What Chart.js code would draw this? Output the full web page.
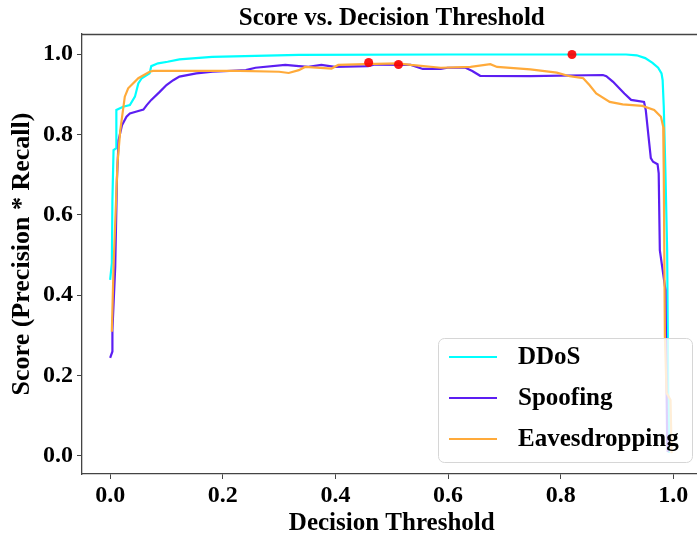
<!DOCTYPE html>
<html>
<head>
<meta charset="utf-8">
<title>Score vs. Decision Threshold</title>
<script src="https://cdn.jsdelivr.net/npm/chart.js@4.4.1/dist/chart.umd.min.js"></script>
<style>
  html, body { margin: 0; padding: 0; background: #fff; overflow: hidden; }
  #wrap { width: 697px; height: 539px; overflow: hidden; }
</style>
</head>
<body>
<div id="wrap"><canvas id="chart" width="706" height="539"></canvas></div>
<script>
// values
const seriesNames = ['DDoS', 'Spoofing', 'Eavesdropping'];

const ddosX = [0.000, 0.003, 0.004, 0.006, 0.011, 0.011, 0.023, 0.035, 0.044, 0.050, 0.056, 0.070, 0.073, 0.085,
  0.102, 0.123, 0.181, 0.335, 0.600, 0.820, 0.916, 0.935, 0.950, 0.963, 0.973, 0.979, 0.981, 0.983, 0.986,
  0.989, 0.991, 0.992];
const ddosY = [0.438, 0.480, 0.637, 0.761, 0.766, 0.861, 0.869, 0.873, 0.894, 0.927, 0.940, 0.952, 0.970, 0.977,
  0.981, 0.987, 0.993, 0.998, 0.999, 0.999, 0.999, 0.997, 0.990, 0.978, 0.966, 0.952, 0.935, 0.869, 0.703,
  0.512, 0.148, 0.007];

const spoofX = [0.000, 0.004, 0.004, 0.009, 0.012, 0.015, 0.021, 0.029, 0.035, 0.047, 0.059, 0.065, 0.073, 0.088,
  0.100, 0.112, 0.123, 0.153, 0.182, 0.241, 0.258, 0.311, 0.335, 0.352, 0.375, 0.399, 0.458, 0.470, 0.534,
  0.555, 0.587, 0.599, 0.631, 0.643, 0.657, 0.746, 0.875, 0.881, 0.893, 0.904, 0.913, 0.925, 0.948, 0.951,
  0.956, 0.960, 0.964, 0.972, 0.974, 0.976, 0.986, 0.989, 0.990];
const spoofY = [0.244, 0.260, 0.313, 0.471, 0.687, 0.786, 0.823, 0.844, 0.852, 0.857, 0.862, 0.873, 0.886, 0.906,
  0.923, 0.935, 0.944, 0.952, 0.956, 0.960, 0.966, 0.973, 0.970, 0.968, 0.973, 0.968, 0.970, 0.974, 0.973,
  0.963, 0.963, 0.966, 0.966, 0.958, 0.946, 0.945, 0.948, 0.945, 0.931, 0.915, 0.902, 0.886, 0.881, 0.861,
  0.794, 0.741, 0.732, 0.726, 0.703, 0.512, 0.413, 0.040, 0.010];

const eavesX = [0.003, 0.006, 0.013, 0.018, 0.026, 0.032, 0.050, 0.070, 0.076, 0.229, 0.300, 0.317, 0.335, 0.346,
  0.393, 0.405, 0.452, 0.511, 0.534, 0.587, 0.640, 0.675, 0.687, 0.746, 0.793, 0.816, 0.840, 0.851, 0.863,
  0.887, 0.910, 0.945, 0.966, 0.978, 0.982, 0.983, 0.985, 0.988, 0.995, 0.997];
const eavesY = [0.309, 0.471, 0.728, 0.811, 0.894, 0.915, 0.940, 0.956, 0.958, 0.958, 0.956, 0.953, 0.960, 0.968,
  0.964, 0.973, 0.975, 0.977, 0.973, 0.966, 0.968, 0.975, 0.968, 0.962, 0.954, 0.945, 0.940, 0.923, 0.902,
  0.881, 0.875, 0.871, 0.861, 0.844, 0.819, 0.703, 0.296, 0.157, 0.139, 0.007];

// best threshold of each class (red dots)
const bestX = [0.459, 0.512, 0.820];
const bestY = [0.979, 0.974, 0.999];

const xTicks = [0, 0.2, 0.4, 0.6, 0.8, 1.0];
const yTicks = [0, 0.2, 0.4, 0.6, 0.8, 1.0];

const colors = ['#00FFFF', '#5C1EF2', '#FFAA3A'];
const serif = '"Liberation Serif", "Times New Roman", serif';

function toPoints(xs, ys) {
  return xs.map((x, i) => ({ x: x, y: ys[i] }));
}

function lineSet(i, xs, ys) {
  return {
    label: seriesNames[i],
    data: toPoints(xs, ys),
    borderColor: colors[i],
    backgroundColor: colors[i],
    borderWidth: 2.2,
    pointRadius: 0,
    tension: 0,
    fill: false,
    order: 3 - i
  };
}

// top spine (right spine falls outside the picture)
const frame = {
  id: 'frame',
  afterDraw(chart) {
    const { ctx, chartArea } = chart;
    ctx.save();
    ctx.strokeStyle = '#444';
    ctx.lineWidth = 1.3;
    ctx.beginPath();
    ctx.moveTo(chartArea.left, chartArea.top + 0.5);
    ctx.lineTo(chartArea.right, chartArea.top + 0.5);
    ctx.lineTo(chartArea.right, chartArea.bottom);
    ctx.stroke();
    ctx.restore();
  }
};

// matplotlib style legend in the lower right corner
const legendBox = {
  id: 'legendBox',
  afterDraw(chart) {
    const ctx = chart.ctx;
    const left = 438, top = 338, right = 692, bottom = 462, r = 6;
    ctx.save();
    ctx.beginPath();
    ctx.roundRect(left + 0.5, top + 0.5, right - left, bottom - top, r);
    ctx.fillStyle = 'rgba(255,255,255,0.8)';
    ctx.fill();
    ctx.strokeStyle = '#d6d6d6';
    ctx.lineWidth = 1;
    ctx.stroke();

    ctx.font = 'bold 25px ' + serif;
    ctx.textBaseline = 'middle';
    ctx.textAlign = 'left';
    const sets = chart.data.datasets.filter(d => seriesNames.includes(d.label));
    sets.forEach((d, i) => {
      const y = 357 + i * 41;
      ctx.strokeStyle = d.borderColor;
      ctx.lineWidth = 2.2;
      ctx.beginPath();
      ctx.moveTo(449, y);
      ctx.lineTo(497, y);
      ctx.stroke();
      ctx.fillStyle = '#000';
      ctx.fillText(d.label, 518, y + 1);
    });
    ctx.restore();
  }
};

new Chart(document.getElementById('chart'), {
  type: 'line',
  data: {
    datasets: [
      lineSet(0, ddosX, ddosY),
      lineSet(1, spoofX, spoofY),
      lineSet(2, eavesX, eavesY),
      {
        label: 'best',
        data: toPoints(bestX, bestY),
        showLine: false,
        pointRadius: 4.5,
        pointBorderWidth: 0,
        pointBackgroundColor: 'rgba(250,0,0,0.9)',
        order: 0
      }
    ]
  },
  options: {
    responsive: false,
    animation: false,
    layout: { padding: 0 },
    plugins: {
      legend: { display: false },
      tooltip: { enabled: false },
      title: {
        display: true,
        text: 'Score vs. Decision Threshold',
        fullSize: false,
        color: '#000',
        font: { family: serif, size: 25, weight: 'bold' },
        padding: { top: 4, bottom: 0 }
      }
    },
    scales: {
      x: {
        type: 'linear',
        min: -0.05,
        max: 1.05,
        afterFit(scale) { scale.height = 65; },
        afterBuildTicks(scale) { scale.ticks = xTicks.map(v => ({ value: v })); },
        grid: { drawOnChartArea: false, tickLength: 5, color: '#444' },
        border: { color: '#444', width: 1.3 },
        ticks: {
          color: '#000',
          padding: 2,
          maxRotation: 0,
          font: { family: serif, size: 24, weight: 'bold' },
          callback: v => v.toFixed(1)
        },
        title: {
          display: true,
          text: 'Decision Threshold',
          color: '#000',
          font: { family: serif, size: 25, weight: 'bold' },
          padding: { top: 3, bottom: 0 }
        }
      },
      y: {
        min: -0.045,
        max: 1.05,
        afterFit(scale) { scale.width = 82; },
        afterBuildTicks(scale) { scale.ticks = yTicks.map(v => ({ value: v })); },
        grid: { drawOnChartArea: false, tickLength: 5, color: '#444' },
        border: { color: '#444', width: 1.3 },
        ticks: {
          color: '#000',
          padding: 4,
          font: { family: serif, size: 24, weight: 'bold' },
          callback: v => v.toFixed(1)
        },
        title: {
          display: true,
          text: 'Score (Precision * Recall)',
          color: '#000',
          font: { family: serif, size: 26, weight: 'bold' },
          padding: { top: 7, bottom: 0 }
        }
      }
    }
  },
  plugins: [frame, legendBox]
});
</script>
</body>
</html>
